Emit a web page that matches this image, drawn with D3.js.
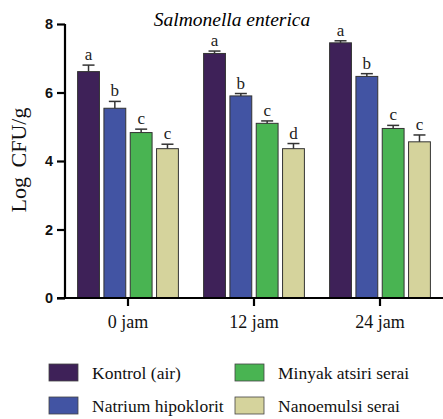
<!DOCTYPE html>
<html>
<head>
<meta charset="utf-8">
<script src="https://cdn.jsdelivr.net/npm/d3@7"></script>
<style>
  html, body { margin: 0; padding: 0; background: #fff; }
  svg { display: block; }
</style>
</head>
<body>
<svg id="chart" width="443" height="419"></svg>
<script>
// Sampling times and treatments
const times = ["0 jam", "12 jam", "24 jam"];
const treatments = ["Kontrol (air)", "Natrium hipoklorit", "Minyak atsiri serai", "Nanoemulsi serai"];
const colors = ["#3e2158", "#4254a3", "#49b452", "#d5d39c"];

// Mean log CFU/g per treatment, one value per time point
const kontrol     = [6.61, 7.14, 7.45];
const hipoklorit  = [5.54, 5.90, 6.47];
const minyak      = [4.83, 5.10, 4.95];
const nanoemulsi  = [4.36, 4.36, 4.56];

// Standard deviations
const kontrolErr    = [0.19, 0.07, 0.06];
const hipokloritErr = [0.20, 0.07, 0.08];
const minyakErr     = [0.10, 0.07, 0.09];
const nanoemulsiErr = [0.13, 0.15, 0.20];

// Significance letters
const kontrolSig    = ["a", "a", "a"];
const hipokloritSig = ["b", "b", "b"];
const minyakSig     = ["c", "c", "c"];
const nanoemulsiSig = ["c", "d", "c"];

const yTicks = [0, 2, 4, 6, 8];

const seriesVals = [kontrol, hipoklorit, minyak, nanoemulsi];
const seriesErr = [kontrolErr, hipokloritErr, minyakErr, nanoemulsiErr];
const seriesSig = [kontrolSig, hipokloritSig, minyakSig, nanoemulsiSig];

const rows = [];
times.forEach((t, ti) => {
  treatments.forEach((s, si) => {
    rows.push({ time: t, series: s, si, value: seriesVals[si][ti], err: seriesErr[si][ti], sig: seriesSig[si][ti] });
  });
});

const svg = d3.select("#chart");
const serif = "Liberation Serif, Times New Roman, serif";
const sans = "Liberation Sans, Arial, sans-serif";

const y = d3.scaleLinear().domain([0, 8]).range([298, 24]);
const x0 = d3.scaleBand().domain(times).range([65, 443]).paddingInner(0.2).paddingOuter(0.1);
const x1 = d3.scaleBand().domain(treatments).range([0, x0.bandwidth()]).paddingInner(0.17);

// Title
svg.append("text")
  .attr("x", 232).attr("y", 26)
  .attr("text-anchor", "middle")
  .style("font-family", serif)
  .style("font-style", "italic")
  .style("font-size", "19.5px")
  .text("Salmonella enterica");

// Bars
const g = svg.append("g");
const bar = g.selectAll("g.bar").data(rows).join("g")
  .attr("transform", d => `translate(${x0(d.time) + x1(d.series)},0)`);

bar.append("rect")
  .attr("x", 0)
  .attr("y", d => y(d.value))
  .attr("width", x1.bandwidth())
  .attr("height", d => y(0) - y(d.value))
  .attr("fill", d => colors[d.si])
  .attr("stroke", "#333")
  .attr("stroke-width", 1);

// Error bars (upper half)
const cw = 6;
bar.append("line")
  .attr("x1", x1.bandwidth() / 2).attr("x2", x1.bandwidth() / 2)
  .attr("y1", d => y(d.value)).attr("y2", d => y(d.value + d.err))
  .attr("stroke", "#333").attr("stroke-width", 1.5);
bar.append("line")
  .attr("x1", x1.bandwidth() / 2 - cw).attr("x2", x1.bandwidth() / 2 + cw)
  .attr("y1", d => y(d.value + d.err)).attr("y2", d => y(d.value + d.err))
  .attr("stroke", "#333").attr("stroke-width", 1.5);

// Significance letters
bar.append("text")
  .attr("x", x1.bandwidth() / 2)
  .attr("y", d => y(d.value + d.err) - 5)
  .attr("text-anchor", "middle")
  .style("font-family", serif)
  .style("font-size", "17px")
  .attr("fill", "#222")
  .text(d => d.sig);

// Y axis
const yAxis = svg.append("g")
  .attr("transform", "translate(65,0)")
  .call(d3.axisLeft(y).tickValues(yTicks).tickSize(8).tickPadding(4).tickFormat(d3.format("d")));
yAxis.select(".domain").attr("stroke", "#000").attr("stroke-width", 2.2).attr("d", `M0,${y(8)}V${y(0)}`);
yAxis.selectAll(".tick line").attr("stroke", "#000").attr("stroke-width", 2.2);
yAxis.selectAll(".tick text")
  .style("font-family", sans).style("font-weight", "bold").style("font-size", "14.5px").attr("fill", "#111");

// X axis
const xAxis = svg.append("g")
  .attr("transform", `translate(0,${y(0)})`)
  .call(d3.axisBottom(x0).tickSize(8).tickPadding(9));
xAxis.select(".domain").attr("stroke", "#000").attr("stroke-width", 2.2).attr("d", "M57,0H443");
xAxis.selectAll(".tick line").attr("stroke", "#000").attr("stroke-width", 2.2);
xAxis.selectAll(".tick text")
  .style("font-family", serif).style("font-size", "18px").attr("fill", "#111");

// Y axis title
svg.append("text")
  .attr("transform", "translate(26,160) rotate(-90)")
  .attr("text-anchor", "middle")
  .style("font-family", serif)
  .style("font-size", "22px")
  .style("word-spacing", "4px")
  .attr("fill", "#111")
  .text("Log CFU/g");

// Legend
const legendPos = [
  { x: 49, y: 364 }, { x: 49, y: 397 }, { x: 235, y: 364 }, { x: 235, y: 397 }
];
const leg = svg.selectAll("g.legend").data(treatments).join("g")
  .attr("transform", (d, i) => `translate(${legendPos[i].x},${legendPos[i].y})`);
leg.append("rect")
  .attr("width", 29).attr("height", 17)
  .attr("fill", (d, i) => colors[i])
  .attr("stroke", "#444").attr("stroke-width", 0.8);
leg.append("text")
  .attr("x", 43).attr("y", 15)
  .style("font-family", serif)
  .style("font-size", "17.5px")
  .attr("fill", "#111")
  .text(d => d);
</script>
</body>
</html>
